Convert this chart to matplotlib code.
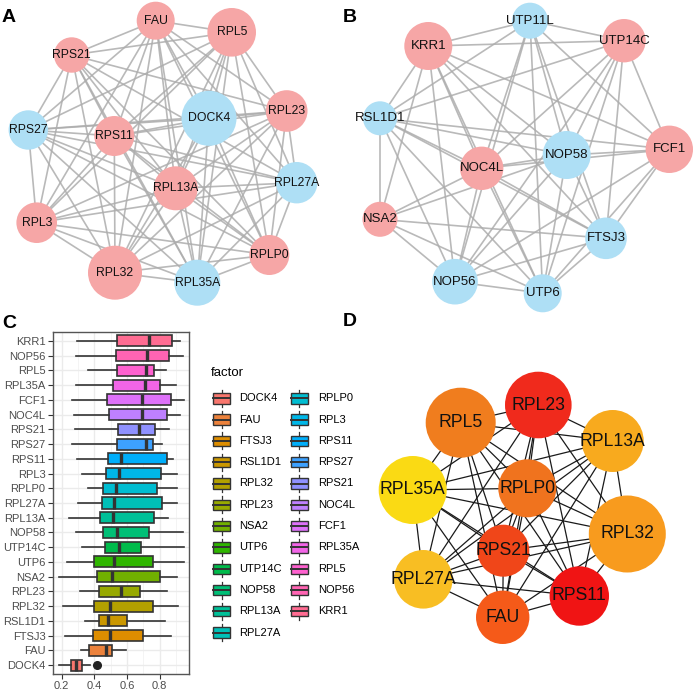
import numpy as np
import matplotlib
matplotlib.use('Agg')
import matplotlib.pyplot as plt
from matplotlib.patches import Circle, Rectangle

plt.rcParams['font.family'] = ['Liberation Sans', 'DejaVu Sans']

# ---------------- Panel A network ----------------
a_nodes = ['FAU', 'RPL5', 'RPS21', 'DOCK4', 'RPL23', 'RPS27', 'RPS11', 'RPL27A',
           'RPL13A', 'RPL3', 'RPLP0', 'RPL32', 'RPL35A']
a_x = [155.7, 231.7, 71.7, 209.0, 286.7, 28.3, 114.3, 296.7, 175.7, 36.7, 269.3, 115.0, 197.3]
a_y = [20.7, 32.3, 55.0, 118.3, 111.0, 130.0, 136.0, 182.7, 188.3, 222.7, 255.0, 272.7, 282.7]
a_r = [19, 24.3, 17.7, 27.5, 20.8, 19.7, 20, 20.7, 22, 20.3, 20, 27, 23]
a_up = [1, 1, 1, 0, 1, 0, 1, 0, 1, 1, 1, 1, 0]
a_edges = [
    ('FAU', 'RPL5'), ('FAU', 'RPS21'), ('FAU', 'DOCK4'), ('FAU', 'RPL23'), ('FAU', 'RPS27'),
    ('FAU', 'RPS11'), ('FAU', 'RPL27A'), ('FAU', 'RPL13A'), ('FAU', 'RPL3'), ('FAU', 'RPLP0'),
    ('FAU', 'RPL32'), ('FAU', 'RPL35A'),
    ('RPL5', 'RPS21'), ('RPL5', 'DOCK4'), ('RPL5', 'RPL23'), ('RPL5', 'RPS27'), ('RPL5', 'RPS11'),
    ('RPL5', 'RPL27A'), ('RPL5', 'RPL13A'), ('RPL5', 'RPL3'), ('RPL5', 'RPLP0'), ('RPL5', 'RPL32'),
    ('RPL5', 'RPL35A'),
    ('RPS21', 'RPL23'), ('RPS21', 'RPS27'), ('RPS21', 'RPS11'), ('RPS21', 'RPL27A'),
    ('RPS21', 'RPL13A'), ('RPS21', 'RPL3'), ('RPS21', 'RPLP0'), ('RPS21', 'RPL32'), ('RPS21', 'RPL35A'),
    ('DOCK4', 'RPL23'), ('DOCK4', 'RPS27'), ('DOCK4', 'RPS11'), ('DOCK4', 'RPL13A'),
    ('DOCK4', 'RPL32'), ('DOCK4', 'RPL35A'), ('DOCK4', 'RPLP0'),
    ('RPL23', 'RPS27'), ('RPL23', 'RPS11'), ('RPL23', 'RPL27A'), ('RPL23', 'RPL13A'),
    ('RPL23', 'RPL3'), ('RPL23', 'RPLP0'), ('RPL23', 'RPL32'), ('RPL23', 'RPL35A'),
    ('RPS27', 'RPS11'), ('RPS27', 'RPL27A'), ('RPS27', 'RPL13A'), ('RPS27', 'RPL3'),
    ('RPS27', 'RPLP0'), ('RPS27', 'RPL32'), ('RPS27', 'RPL35A'),
    ('RPS11', 'RPL27A'), ('RPS11', 'RPL13A'), ('RPS11', 'RPL3'), ('RPS11', 'RPLP0'),
    ('RPS11', 'RPL32'), ('RPS11', 'RPL35A'),
    ('RPL27A', 'RPL13A'), ('RPL27A', 'RPL3'), ('RPL27A', 'RPLP0'), ('RPL27A', 'RPL32'),
    ('RPL27A', 'RPL35A'),
    ('RPL13A', 'RPL3'), ('RPL13A', 'RPLP0'), ('RPL13A', 'RPL32'), ('RPL13A', 'RPL35A'),
    ('RPL3', 'RPLP0'), ('RPL3', 'RPL32'), ('RPL3', 'RPL35A'),
    ('RPLP0', 'RPL32'), ('RPLP0', 'RPL35A'), ('RPL32', 'RPL35A'),
]

# ---------------- Panel B network ----------------
b_nodes = ['UTP11L', 'KRR1', 'UTP14C', 'RSL1D1', 'FCF1', 'NOP58', 'NOC4L', 'NSA2',
           'FTSJ3', 'NOP56', 'UTP6']
b_x = [530.0, 428.3, 624.0, 380.0, 669.3, 566.7, 481.7, 380.0, 606.0, 455.0, 542.7]
b_y = [20.7, 46.0, 40.7, 118.3, 149.3, 155.0, 168.3, 219.3, 238.3, 281.7, 293.3]
b_r = [18, 24, 21.7, 17, 23.7, 24, 21.7, 17.5, 20.8, 22.8, 19]
b_up = [0, 1, 1, 0, 1, 0, 1, 1, 0, 0, 0]
b_edges = [
    ('UTP11L', 'KRR1'), ('UTP11L', 'UTP14C'), ('UTP11L', 'RSL1D1'), ('UTP11L', 'FCF1'),
    ('UTP11L', 'NOP58'), ('UTP11L', 'NOC4L'), ('UTP11L', 'FTSJ3'), ('UTP11L', 'NOP56'),
    ('UTP11L', 'UTP6'),
    ('KRR1', 'UTP14C'), ('KRR1', 'RSL1D1'), ('KRR1', 'FCF1'), ('KRR1', 'NOP58'),
    ('KRR1', 'NOC4L'), ('KRR1', 'NSA2'), ('KRR1', 'FTSJ3'), ('KRR1', 'NOP56'), ('KRR1', 'UTP6'),
    ('UTP14C', 'RSL1D1'), ('UTP14C', 'FCF1'), ('UTP14C', 'NOP58'), ('UTP14C', 'NOC4L'),
    ('UTP14C', 'FTSJ3'), ('UTP14C', 'NOP56'), ('UTP14C', 'UTP6'),
    ('RSL1D1', 'FCF1'), ('RSL1D1', 'NOP58'), ('RSL1D1', 'NOC4L'), ('RSL1D1', 'NSA2'),
    ('RSL1D1', 'FTSJ3'), ('RSL1D1', 'NOP56'), ('RSL1D1', 'UTP6'),
    ('FCF1', 'NOP58'), ('FCF1', 'NOC4L'), ('FCF1', 'FTSJ3'), ('FCF1', 'NOP56'), ('FCF1', 'UTP6'),
    ('NOP58', 'NOC4L'), ('NOP58', 'NSA2'), ('NOP58', 'FTSJ3'), ('NOP58', 'NOP56'), ('NOP58', 'UTP6'),
    ('NOC4L', 'NSA2'), ('NOC4L', 'FTSJ3'), ('NOC4L', 'NOP56'), ('NOC4L', 'UTP6'),
    ('NSA2', 'FTSJ3'), ('NSA2', 'NOP56'), ('NSA2', 'UTP6'),
    ('FTSJ3', 'NOP56'), ('FTSJ3', 'UTP6'), ('NOP56', 'UTP6'),
]

# ---------------- Panel C boxplot ----------------
c_genes = ['DOCK4', 'FAU', 'FTSJ3', 'RSL1D1', 'RPL32', 'RPL23', 'NSA2', 'UTP6', 'UTP14C',
           'NOP58', 'RPL13A', 'RPL27A', 'RPLP0', 'RPL3', 'RPS11', 'RPS27', 'RPS21', 'NOC4L',
           'FCF1', 'RPL35A', 'RPL5', 'NOP56', 'KRR1']
c_whislo = [0.182, 0.319, 0.220, 0.341, 0.208, 0.311, 0.184, 0.233, 0.321, 0.286, 0.245,
            0.298, 0.362, 0.323, 0.292, 0.261, 0.278, 0.272, 0.261, 0.290, 0.360, 0.286, 0.294]
c_q1 = [0.257, 0.364, 0.389, 0.430, 0.399, 0.430, 0.417, 0.399, 0.466, 0.454, 0.436,
        0.446, 0.452, 0.470, 0.481, 0.540, 0.546, 0.489, 0.479, 0.511, 0.540, 0.532, 0.536]
c_med = [0.290, 0.473, 0.493, 0.485, 0.493, 0.561, 0.509, 0.518, 0.550, 0.538, 0.516,
         0.520, 0.534, 0.550, 0.561, 0.714, 0.671, 0.692, 0.690, 0.712, 0.716, 0.720, 0.737]
c_q3 = [0.321, 0.505, 0.696, 0.598, 0.761, 0.680, 0.802, 0.757, 0.688, 0.733, 0.764,
        0.813, 0.786, 0.807, 0.845, 0.761, 0.772, 0.848, 0.870, 0.802, 0.764, 0.856, 0.874]
c_whishi = [0.376, 0.593, 0.870, 0.835, 0.915, 0.843, 0.909, 0.950, 0.950, 0.942, 0.850,
            0.909, 0.909, 0.909, 0.884, 0.817, 0.860, 0.925, 0.950, 0.899, 0.839, 0.942, 0.925]
c_outliers = {'DOCK4': [0.417]}
c_xticks = [0.2, 0.4, 0.6, 0.8]

# ---------------- Panel D network ----------------
d_nodes = ['RPL23', 'RPL5', 'RPL13A', 'RPL35A', 'RPLP0', 'RPL32', 'RPS21', 'RPL27A', 'RPS11', 'FAU']
d_x = [538.3, 460.7, 612.7, 412.7, 527.3, 627.3, 503.3, 423.3, 579.3, 502.7]
d_y = [405.0, 422.7, 441.0, 490.0, 488.3, 534.0, 550.7, 579.3, 596.0, 617.3]
d_r = [33.3, 35, 31, 34, 29, 38.5, 26, 29.3, 29.7, 26.7]
d_colors = ['#F02A1C', '#F07D1E', '#F8AA1E', '#FADA14', '#F0731E', '#F89B1E',
            '#F04619', '#F8BE23', '#F01414', '#F55A19']
d_edges = [
    ('RPL23', 'RPL5'), ('RPL23', 'RPL13A'), ('RPL23', 'RPL35A'), ('RPL23', 'RPLP0'),
    ('RPL23', 'RPL32'), ('RPL23', 'RPS21'), ('RPL23', 'RPL27A'), ('RPL23', 'RPS11'), ('RPL23', 'FAU'),
    ('RPL5', 'RPL13A'), ('RPL5', 'RPL35A'), ('RPL5', 'RPLP0'), ('RPL5', 'RPL32'), ('RPL5', 'RPS21'),
    ('RPL5', 'RPL27A'), ('RPL5', 'RPS11'), ('RPL5', 'FAU'),
    ('RPL13A', 'RPL35A'), ('RPL13A', 'RPLP0'), ('RPL13A', 'RPL32'), ('RPL13A', 'RPS21'),
    ('RPL13A', 'RPL27A'), ('RPL13A', 'RPS11'), ('RPL13A', 'FAU'),
    ('RPL35A', 'RPLP0'), ('RPL35A', 'RPL32'), ('RPL35A', 'RPS21'), ('RPL35A', 'RPL27A'),
    ('RPL35A', 'RPS11'), ('RPL35A', 'FAU'),
    ('RPLP0', 'RPL32'), ('RPLP0', 'RPS21'), ('RPLP0', 'RPL27A'), ('RPLP0', 'RPS11'), ('RPLP0', 'FAU'),
    ('RPL32', 'RPS21'), ('RPL32', 'RPL27A'), ('RPL32', 'RPS11'), ('RPL32', 'FAU'),
    ('RPS21', 'RPL27A'), ('RPS21', 'RPS11'), ('RPS21', 'FAU'),
    ('RPL27A', 'RPS11'), ('RPL27A', 'FAU'), ('RPS11', 'FAU'),
]

PINK = '#F6A6A6'
BLUE = '#AEDFF5'


def hcl_color(h, c=100.0, l=65.0):
    hr = np.deg2rad(h)
    U, V = c * np.cos(hr), c * np.sin(hr)
    Xn, Yn, Zn = 95.047, 100.0, 108.883
    den = Xn + 15 * Yn + 3 * Zn
    un, vn = 4 * Xn / den, 9 * Yn / den
    Y = Yn * ((l + 16) / 116) ** 3
    u = U / (13 * l) + un
    v = V / (13 * l) + vn
    X = 9 * Y * u / (4 * v)
    Z = Y * (12 - 3 * u - 20 * v) / (4 * v)
    X, Y, Z = X / 100, Y / 100, Z / 100
    rgb = np.array([3.240479 * X - 1.537150 * Y - 0.498535 * Z,
                    -0.969256 * X + 1.875992 * Y + 0.041556 * Z,
                    0.055648 * X - 0.204043 * Y + 1.057311 * Z])
    rgb = np.where(rgb <= 0.0031308, 12.92 * rgb, 1.055 * np.abs(rgb) ** (1 / 2.4) - 0.055)
    return tuple(np.clip(rgb, 0, 1))


n_lev = len(c_genes)
hues = np.linspace(15, 375, n_lev + 1)[:-1]
c_colors = [hcl_color(h) for h in hues]

W, H = 699, 692
fig = plt.figure(figsize=(W / 100, H / 100), dpi=100)
ax = fig.add_axes([0, 0, 1, 1])
ax.set_xlim(0, W)
ax.set_ylim(H, 0)
ax.axis('off')


def draw_net(nodes, xs, ys, rs, colors, edges, ecol, elw, ealpha, fs):
    idx = {n: i for i, n in enumerate(nodes)}
    for s, t in edges:
        i, j = idx[s], idx[t]
        ax.plot([xs[i], xs[j]], [ys[i], ys[j]], color=ecol, lw=elw, alpha=ealpha,
                zorder=1, solid_capstyle='butt')
    for i, n in enumerate(nodes):
        ax.add_patch(Circle((xs[i], ys[i]), rs[i], facecolor=colors[i], edgecolor='none', zorder=2))
        ax.text(xs[i], ys[i], n, ha='center', va='center', fontsize=fs, color='#111111', zorder=3)


draw_net(a_nodes, a_x, a_y, a_r, [PINK if u else BLUE for u in a_up], a_edges,
         '#ADADAD', 1.2, 0.85, 8.8)
draw_net(b_nodes, b_x, b_y, b_r, [PINK if u else BLUE for u in b_up], b_edges,
         '#ADADAD', 1.2, 0.85, 9.5)
draw_net(d_nodes, d_x, d_y, d_r, d_colors, d_edges, '#1A1A1A', 0.9, 1.0, 12.7)

# panel letters
for lab, (lx, ly) in zip(['A', 'B', 'C', 'D'], [(2, 18), (343, 18), (2, 323), (343, 322)]):
    ax.text(lx, ly, lab, fontsize=14, fontweight='bold', ha='left', va='center', color='black')

# ---------------- Panel C ----------------
axc = fig.add_axes([52.5 / W, (H - 674) / H, 136.5 / W, 342 / H])
stats = []
for i, g in enumerate(c_genes):
    stats.append(dict(med=c_med[i], q1=c_q1[i], q3=c_q3[i], whislo=c_whislo[i],
                      whishi=c_whishi[i], fliers=c_outliers.get(g, []), label=g))
pos = np.arange(1, n_lev + 1)
bp = axc.bxp(stats, positions=pos, orientation='horizontal', widths=0.75, patch_artist=True,
             showcaps=False, showfliers=True,
             boxprops=dict(edgecolor='#333333', linewidth=1.2),
             whiskerprops=dict(color='#333333', linewidth=1.2),
             medianprops=dict(color='#333333', linewidth=2.4, solid_capstyle='butt'),
             flierprops=dict(marker='o', markerfacecolor='#222222', markeredgecolor='#222222',
                             markersize=5.5))
for patch, col in zip(bp['boxes'], c_colors):
    patch.set_facecolor(col)
axc.set_xlim(0.143, 0.98)
axc.set_ylim(0.4, n_lev + 0.6)
axc.set_xticks(c_xticks)
axc.set_xticks([0.3, 0.5, 0.7, 0.9], minor=True)
axc.set_yticks(pos)
axc.set_yticklabels(c_genes)
axc.grid(True, which='major', color='#EBEBEB', lw=1.0)
axc.grid(True, which='minor', axis='x', color='#F2F2F2', lw=0.6)
axc.set_axisbelow(True)
axc.tick_params(axis='both', which='major', labelsize=8, labelcolor='#4D4D4D',
                color='#333333', length=3.5, width=0.8, pad=1.5)
axc.tick_params(axis='x', which='minor', length=0)
for sp in axc.spines.values():
    sp.set_color('#555555')
    sp.set_linewidth(1.0)

# legend for panel C
ax.text(211, 373, 'factor', fontsize=9.5, ha='left', va='center', color='black')
row0, dy = 398.3, 21.3
for k, g in enumerate(c_genes):
    col = 0 if k < 12 else 1
    row = k if k < 12 else k - 12
    kx = 221.7 if col == 0 else 299.3
    tx = 239.3 if col == 0 else 317.7
    ky = row0 + row * dy
    ax.plot([kx, kx], [ky - 8.5, ky + 8.5], color='#333333', lw=0.9, zorder=1)
    ax.add_patch(Rectangle((kx - 8.3, ky - 5.2), 16.6, 10.4, facecolor=c_colors[k],
                           edgecolor='#333333', lw=1.0, zorder=2))
    ax.plot([kx - 8.3, kx + 8.3], [ky, ky], color='#333333', lw=1.4, zorder=3)
    ax.text(tx, ky, g, fontsize=8, ha='left', va='center', color='black')

fig.savefig('out.png', dpi=100)
